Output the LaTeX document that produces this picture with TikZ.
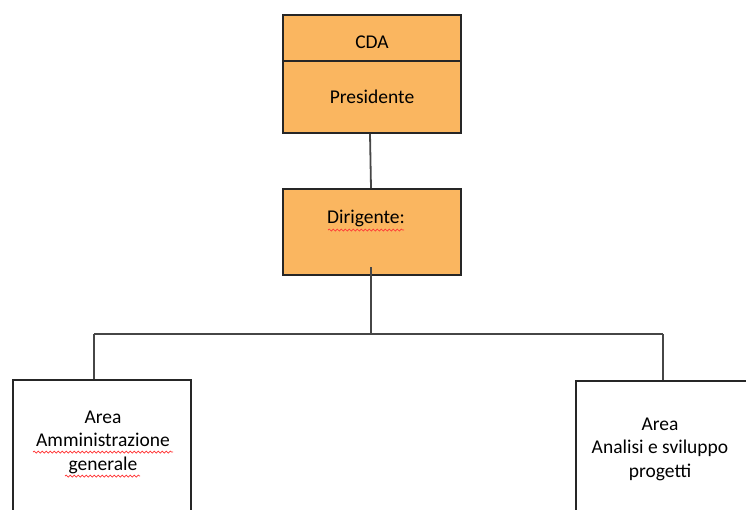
\documentclass[tikz,border=0pt]{standalone}
\usepackage{fontspec}
\setmainfont{Carlito}
\usetikzlibrary{calc,decorations.pathmorphing}
\definecolor{boxorange}{RGB}{250,182,96}
\definecolor{linegray}{RGB}{70,70,70}
\tikzset{
  x=1pt,y=1pt,
  obox/.style={draw=black!85,line width=1.6pt,fill=boxorange,minimum width=178pt,inner sep=0pt},
  wbox/.style={draw=black!85,line width=1.6pt,fill=white,minimum width=178pt,minimum height=170pt,inner sep=0pt,anchor=north west},
  conn/.style={draw=linegray,line width=1.8pt},
  lbl/.style={font=\fontsize{19.5}{23.5}\selectfont,align=center,inner sep=0pt},
  squig/.style={draw=red!80,line width=0.7pt,decorate,decoration={snake,amplitude=1pt,segment length=4pt}}
}
\begin{document}
\begin{tikzpicture}
\useasboundingbox (0,0) rectangle (746,-509);
\clip (0,0) rectangle (746,-509);
% top box
\node[obox,minimum height=118pt] (top) at (372,-74) {};
\draw[black!85,line width=1.3pt] (top.west |- 0,-61) coordinate (dl) -- (top.east |- 0,-61) coordinate (dr);
\node[lbl] (cda) at (372,-42) {CDA};
\node[lbl] (pres) at (372,-97) {Presidente};
% dirigente
\node[obox,minimum height=86pt] (dir) at (372,-232) {};
\node[lbl] (dirl) at (366,-218) {Dirigente:};
\draw[squig] (328,-230) -- (404,-230);
% connectors
\draw[conn] (top.south -| 370,0) -- (dir.north -| 371,0);
\coordinate (dstart) at (371,-267);
\coordinate (bus) at (371,-334);
\coordinate (busl) at (94,-334);
\coordinate (busr) at (663,-334);
% bottom boxes
\node[wbox] (left) at (12,-379) {};
\node[wbox] (right) at (575,-380) {};
\draw[conn] (dstart) -- (bus);
\draw[conn] (busl) -- (busr);
\draw[conn] (busl) -- (left.north -| busl);
\draw[conn] (busr) -- (right.north -| busr);
% labels
\node[lbl] (ltxt) at (103,-442) {Area\\Amministrazione\\generale};
\draw[squig] (33,-452) -- (173,-452);
\draw[squig] (65,-476) -- (140,-476);
\node[lbl] (rtxt) at (660,-449) {Area\\Analisi e sviluppo\\progetti};
\end{tikzpicture}
\end{document}
